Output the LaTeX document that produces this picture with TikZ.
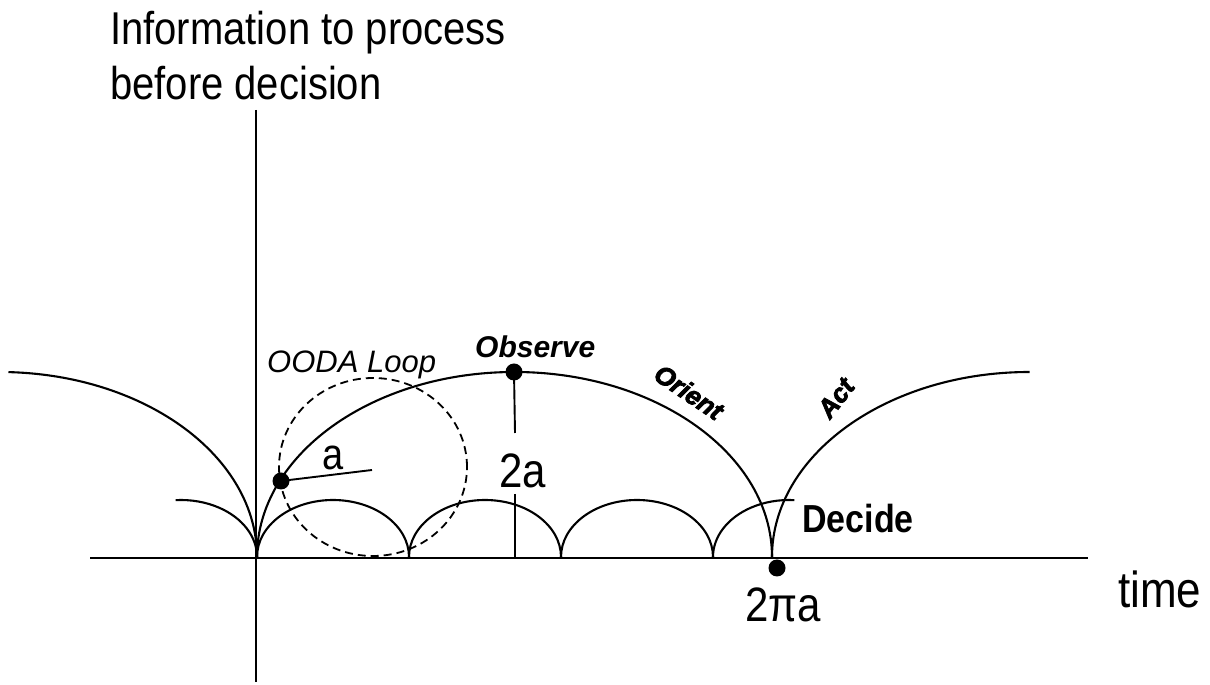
\documentclass[tikz,border=0pt]{standalone}
\usepackage{fontspec}
\usepackage{graphicx}
\setmainfont{Liberation Sans}
\newfontfamily\heavyfont[FakeBold=3]{Liberation Sans}
\newcommand{\vstr}[1]{\scalebox{1}[1.15]{#1}}
\newcommand{\fsz}[1]{\fontsize{#1}{#1}\selectfont}
\begin{document}
\begin{tikzpicture}[x=1pt,y=1pt,
  curve/.style={line width=2.1pt},
  axisline/.style={line width=1.8pt},
  thinline/.style={line width=1.9pt},
  loopcircle/.style={line width=1.8pt, dash pattern=on 8pt off 5pt},
  lbl/.style={inner sep=0pt, anchor=base west},
  dot/.style={circle, fill=black, inner sep=0pt, minimum size=17pt}]
\useasboundingbox (0,0) rectangle (1210,685);
% axes
\coordinate (xl) at (90,127);
\coordinate (xr) at (1088,127);
\coordinate (yt) at (256,575);
\coordinate (yb) at (256,3);
\draw[axisline] (xl) -- (xr);
\draw[axisline] (yt) -- (yb);
% big arches
\draw[curve] (257,128) arc[start angle=0, end angle=88, x radius=257.5, y radius=185];
\draw[curve] (772,128) arc[start angle=0, end angle=180, x radius=257.5, y radius=185];
\draw[curve] (772,128) arc[start angle=180, end angle=90, x radius=257.5, y radius=185];
% small arches
\draw[curve] (257,128) arc[start angle=0, end angle=94, x radius=76, y radius=57];
\foreach \c in {257,409,561}
  \draw[curve] (\c,128) arc[start angle=180, end angle=0, x radius=76, y radius=57];
\draw[curve] (713,128) arc[start angle=180, end angle=86, x radius=76, y radius=57];
% OODA loop circle
\draw[loopcircle] (373,218) ellipse[x radius=94, y radius=89];
% dots
\node[dot] (p1) at (281,204) {};
\node[dot] (pk) at (514,313) {};
\node[dot] (p2) at (777,117) {};
% radius a
\coordinate (rend) at (372,215);
\draw[thinline] (p1.center) -- (rend);
% 2a line
\coordinate (g1) at (515,252);
\coordinate (g2) at (515,191);
\coordinate (g3) at (515,128);
\draw[thinline] (pk.center) -- (g1);
\draw[thinline] (g2) -- (g3);
% labels
\node[lbl] (info1) at (110,640) {\fsz{40}\vstr{Information to process}};
\node[lbl] (info2) at (110,585) {\fsz{40}\vstr{before decision}};
\node[lbl] (ooda) at (267,312) {\fsz{31}\itshape OODA Loop};
\node[lbl] (obs) at (475,327) {\fsz{30}\bfseries\itshape Observe};
\node[lbl] (la) at (322,215) {\fsz{38}\vstr{a}};
\node[lbl] (l2a) at (499,197) {\fsz{42}\vstr{2a}};
\node[lbl] (l2pia) at (745,63) {\fsz{42}\vstr{2πa}};
\node[lbl] (dec) at (802,152) {\fsz{34}\vstr{\bfseries Decide}};
\node[lbl] (tm) at (1118,77) {\fsz{44}\vstr{time}};
\node[inner sep=0pt, rotate=-34] (ori) at (689,293) {\fsz{26}\heavyfont\bfseries\itshape Orient};
\node[inner sep=0pt, rotate=52] (act) at (836,287) {\fsz{26}\heavyfont\bfseries\itshape Act};
\end{tikzpicture}
\end{document}
